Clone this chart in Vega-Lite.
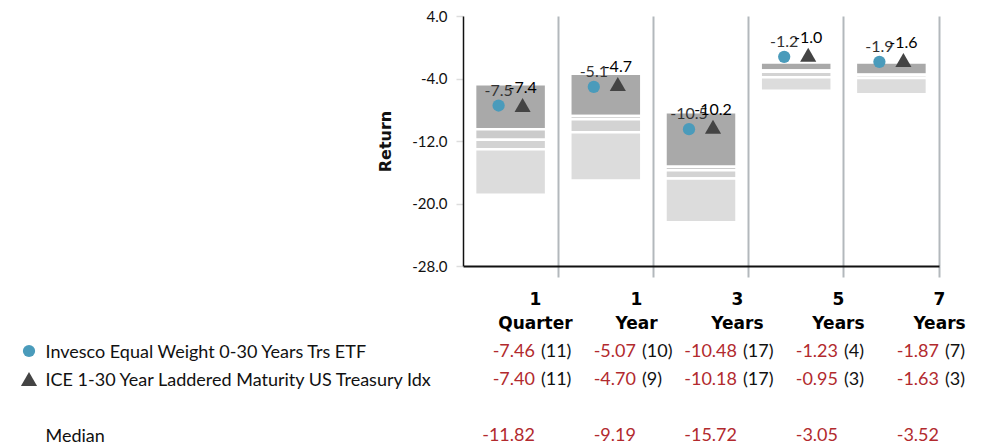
{
  "$schema": "https://vega.github.io/schema/vega-lite/v6.json",
  "width": 476,
  "height": 250,
  "autosize": {"type": "none"},
  "padding": {"left": 463, "top": 16, "right": 51, "bottom": 181},
  "config": {
    "view": {"stroke": null},
    "font": "Lato",
    "axis": {"labelFont": "Lato", "titleFont": "Lato"},
    "locale": {"number": {"decimal": ".", "thousands": ",", "grouping": [3], "currency": ["$", ""], "minus": "-"}}
  },
  "datasets": {
    "bands": [
      {"period": "1 Quarter", "band": "5th-25th", "top": -4.74, "bottom": -10.48},
      {"period": "1 Quarter", "band": "25th-50th", "top": -10.48, "bottom": -11.85},
      {"period": "1 Quarter", "band": "50th-75th", "top": -11.85, "bottom": -13.06},
      {"period": "1 Quarter", "band": "75th-95th", "top": -13.06, "bottom": -18.89},
      {"period": "1 Year", "band": "5th-25th", "top": -3.39, "bottom": -8.81},
      {"period": "1 Year", "band": "25th-50th", "top": -8.81, "bottom": -9.22},
      {"period": "1 Year", "band": "50th-75th", "top": -9.22, "bottom": -10.89},
      {"period": "1 Year", "band": "75th-95th", "top": -10.89, "bottom": -17.06},
      {"period": "3 Years", "band": "5th-25th", "top": -8.33, "bottom": -15.28},
      {"period": "3 Years", "band": "25th-50th", "top": -15.28, "bottom": -15.73},
      {"period": "3 Years", "band": "50th-75th", "top": -15.73, "bottom": -16.79},
      {"period": "3 Years", "band": "75th-95th", "top": -16.79, "bottom": -22.4},
      {"period": "5 Years", "band": "5th-25th", "top": -1.95, "bottom": -2.98},
      {"period": "5 Years", "band": "25th-50th", "top": -2.98, "bottom": -3.14},
      {"period": "5 Years", "band": "50th-75th", "top": -3.14, "bottom": -3.85},
      {"period": "5 Years", "band": "75th-95th", "top": -3.85, "bottom": -5.58},
      {"period": "7 Years", "band": "5th-25th", "top": -1.96, "bottom": -3.52},
      {"period": "7 Years", "band": "25th-50th", "top": -3.52, "bottom": -3.55},
      {"period": "7 Years", "band": "50th-75th", "top": -3.55, "bottom": -3.92},
      {"period": "7 Years", "band": "75th-95th", "top": -3.92, "bottom": -6.0}
    ],
    "perf": [
      {"period": "1 Quarter", "series": "Invesco Equal Weight 0-30 Years Trs ETF", "value": -7.46, "rank": 11},
      {"period": "1 Year", "series": "Invesco Equal Weight 0-30 Years Trs ETF", "value": -5.07, "rank": 10},
      {"period": "3 Years", "series": "Invesco Equal Weight 0-30 Years Trs ETF", "value": -10.48, "rank": 17},
      {"period": "5 Years", "series": "Invesco Equal Weight 0-30 Years Trs ETF", "value": -1.23, "rank": 4},
      {"period": "7 Years", "series": "Invesco Equal Weight 0-30 Years Trs ETF", "value": -1.87, "rank": 7},
      {"period": "1 Quarter", "series": "ICE 1-30 Year Laddered Maturity US Treasury Idx", "value": -7.40, "rank": 11},
      {"period": "1 Year", "series": "ICE 1-30 Year Laddered Maturity US Treasury Idx", "value": -4.70, "rank": 9},
      {"period": "3 Years", "series": "ICE 1-30 Year Laddered Maturity US Treasury Idx", "value": -10.18, "rank": 17},
      {"period": "5 Years", "series": "ICE 1-30 Year Laddered Maturity US Treasury Idx", "value": -0.953, "rank": 3},
      {"period": "7 Years", "series": "ICE 1-30 Year Laddered Maturity US Treasury Idx", "value": -1.63, "rank": 3},
      {"period": "1 Quarter", "series": "Median", "value": -11.82, "rank": null},
      {"period": "1 Year", "series": "Median", "value": -9.19, "rank": null},
      {"period": "3 Years", "series": "Median", "value": -15.72, "rank": null},
      {"period": "5 Years", "series": "Median", "value": -3.05, "rank": null},
      {"period": "7 Years", "series": "Median", "value": -3.52, "rank": null}
    ]
  },
  "resolve": {"scale": {"x": "independent", "y": "independent"}},
  "layer": [
    {
      "layer": [
        {
          "data": {"name": "bands"},
          "mark": {"type": "bar", "width": {"band": 0.746}, "stroke": "white", "strokeWidth": 2.5},
          "encoding": {
            "x": {
              "field": "period", "type": "nominal",
              "scale": {"type": "band", "paddingInner": 0, "paddingOuter": 0, "domain": ["1 Quarter", "1 Year", "3 Years", "5 Years", "7 Years"]},
              "axis": {
                "title": null, "labels": false, "bandPosition": 1,
                "grid": true, "gridColor": "#b3b8bc", "gridWidth": 2,
                "ticks": true, "tickSize": 11, "tickColor": "#b3b8bc", "tickWidth": 2,
                "domainColor": "#111111", "domainWidth": 2
              }
            },
            "y": {
              "field": "top", "type": "quantitative",
              "scale": {"domain": [-28, 4], "nice": false, "zero": false},
              "axis": {
                "title": "Return", "values": [4, -4, -12, -20, -28], "format": ".1f",
                "grid": false, "domainColor": "#111111", "domainWidth": 1.5,
                "tickColor": "#dddddd", "tickSize": 7, "tickWidth": 1.5,
                "labelFontSize": 15, "labelColor": "#111111", "labelPadding": 9, "labelFlush": false,
                "titleFont": "DejaVu Sans", "titleFontSize": 16, "titleFontWeight": "bold", "titleColor": "#111111", "titlePadding": 18
              }
            },
            "y2": {"field": "bottom"},
            "fill": {
              "field": "band", "type": "nominal",
              "scale": {"domain": ["5th-25th", "25th-50th", "50th-75th", "75th-95th"], "range": ["#a9a9a9", "#cbcbcb", "#d3d3d3", "#dcdcdc"]},
              "legend": null
            }
          }
        },
        {
          "data": {"name": "perf"},
          "transform": [{"filter": "datum.series != 'Median'"}],
          "mark": {"type": "point", "filled": true, "opacity": 1},
          "encoding": {
            "x": {"field": "period", "type": "nominal"},
            "xOffset": {"field": "series", "type": "nominal", "scale": {"type": "band", "paddingInner": 0, "paddingOuter": 0.983, "domain": ["Invesco Equal Weight 0-30 Years Trs ETF", "ICE 1-30 Year Laddered Maturity US Treasury Idx"]}},
            "y": {"field": "value", "type": "quantitative"},
            "color": {
              "field": "series", "type": "nominal",
              "scale": {"domain": ["Invesco Equal Weight 0-30 Years Trs ETF", "ICE 1-30 Year Laddered Maturity US Treasury Idx"], "range": ["#4a9bbb", "#444444"]},
              "legend": {"title": null, "orient": "none", "legendX": -443, "legendY": 326, "labelExpr": "''", "labelFontSize": 18, "rowPadding": 10, "padding": 0}
            },
            "shape": {
              "field": "series", "type": "nominal",
              "scale": {"domain": ["Invesco Equal Weight 0-30 Years Trs ETF", "ICE 1-30 Year Laddered Maturity US Treasury Idx"], "range": ["circle", "triangle-up"]},
              "legend": {"title": null, "orient": "none", "legendX": -443, "legendY": 326, "labelExpr": "''", "labelFontSize": 18, "rowPadding": 10, "padding": 0}
            },
            "size": {
              "field": "series", "type": "nominal",
              "scale": {"domain": ["Invesco Equal Weight 0-30 Years Trs ETF", "ICE 1-30 Year Laddered Maturity US Treasury Idx"], "range": [150, 260]},
              "legend": {"title": null, "orient": "none", "legendX": -443, "legendY": 326, "labelExpr": "''", "labelFontSize": 18, "rowPadding": 10, "padding": 0}
            }
          }
        },
        {
          "data": {"name": "perf"},
          "transform": [{"filter": "datum.series == 'Invesco Equal Weight 0-30 Years Trs ETF'"}],
          "mark": {"type": "text", "dy": -15, "fontSize": 16, "font": "Lato", "color": "#333333"},
          "encoding": {
            "x": {"field": "period", "type": "nominal"},
            "xOffset": {"field": "series", "type": "nominal"},
            "y": {"field": "value", "type": "quantitative"},
            "text": {"field": "value", "type": "quantitative", "format": ".1f"}
          }
        },
        {
          "data": {"name": "perf"},
          "transform": [{"filter": "datum.series == 'ICE 1-30 Year Laddered Maturity US Treasury Idx'"}],
          "mark": {"type": "text", "dy": -17, "fontSize": 16, "font": "Lato", "color": "#000000"},
          "encoding": {
            "x": {"field": "period", "type": "nominal"},
            "xOffset": {"field": "series", "type": "nominal"},
            "y": {"field": "value", "type": "quantitative"},
            "text": {"field": "value", "type": "quantitative", "format": ".1f"}
          }
        }
      ]
    },
    {
      "layer": [
        {
          "data": {"name": "perf"},
          "mark": {"type": "text", "align": "right", "baseline": "middle", "font": "Lato", "fontSize": 18, "color": "#b22a2e"},
          "encoding": {
            "x": {
              "field": "period", "type": "nominal",
              "scale": {"type": "point", "padding": 0.356, "align": 1, "domain": ["1 Quarter", "1 Year", "3 Years", "5 Years", "7 Years"]},
              "axis": {
                "orient": "bottom", "title": null, "domain": false, "ticks": false, "grid": false,
                "labelFont": "DejaVu Sans", "labelFontWeight": "bold", "labelFontSize": 17, "labelColor": "#000000",
                "labelExpr": "split(datum.label, ' ')", "labelLineHeight": 24, "labelPadding": 25,
                "labelAngle": 0, "labelFlush": false, "labelOverlap": false, "labelBound": false, "labelLimit": 0
              }
            },
            "y": {
              "field": "series", "type": "nominal",
              "scale": {"type": "point", "padding": 0, "domain": ["Invesco Equal Weight 0-30 Years Trs ETF", "ICE 1-30 Year Laddered Maturity US Treasury Idx", " ", "Median"], "range": [336, 420]},
              "axis": {
                "orient": "left", "title": null, "domain": false, "ticks": false, "grid": false,
                "labelAlign": "left", "labelBaseline": "middle", "labelPadding": 418, "labelFontSize": 18, "labelColor": "#111111", "labelLimit": 0
              }
            },
            "text": {"field": "value", "type": "quantitative", "format": ".2f"}
          }
        },
        {
          "data": {"name": "perf"},
          "transform": [{"filter": "isValid(datum.rank)"}],
          "mark": {"type": "text", "align": "left", "baseline": "middle", "dx": 6, "font": "Lato", "fontSize": 18, "color": "#111111", "text": {"expr": "'(' + datum.rank + ')'"}},
          "encoding": {
            "x": {"field": "period", "type": "nominal"},
            "y": {"field": "series", "type": "nominal"}
          }
        }
      ]
    }
  ]
}
